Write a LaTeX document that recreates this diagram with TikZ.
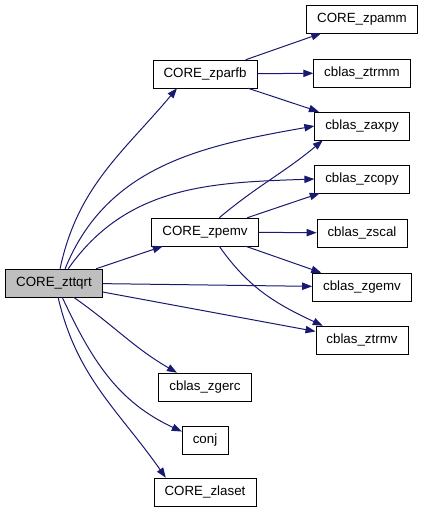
\documentclass[tikz,border=0pt]{standalone}
\usepackage{fontspec}
\setmainfont{Liberation Sans}
\usepackage{tikz}
\usetikzlibrary{arrows.meta}
\definecolor{CallBlue}{HTML}{191970}
\definecolor{RootGray}{HTML}{BFBFBF}

\begin{document}
\begin{tikzpicture}[x=0.75pt,y=-0.75pt,
  fn/.style={draw=black,fill=white,font=\fontsize{10}{12}\selectfont,minimum height=21pt,inner xsep=8pt,inner ysep=0pt},
  call/.style={CallBlue,line width=0.75pt,-{Triangle[length=7.5pt,width=5.5pt]}}]
\useasboundingbox (0,0) rectangle (424,513);
% functions
\node[fn,fill=RootGray] (zttqrt) at (54,283) {CORE\_zttqrt};
\node[fn] (zparfb) at (205,74) {CORE\_zparfb};
\node[fn] (zpemv) at (205,232) {CORE\_zpemv};
\node[fn] (zgerc) at (205,387) {cblas\_zgerc};
\node[fn] (conj) at (205,440) {conj};
\node[fn] (zlaset) at (205,492) {CORE\_zlaset};
\foreach \n/\y/\lab in {zpamm/19/CORE\_zpamm,ztrmm/73/cblas\_ztrmm,zaxpy/126/cblas\_zaxpy,zcopy/179/cblas\_zcopy,zscal/233/cblas\_zscal,zgemv/287/cblas\_zgemv,ztrmv/340/cblas\_ztrmv}
  {\node[fn] (\n) at (362,\y) {\lab};}
% calls
\foreach \t in {zpamm,ztrmm,zaxpy}{\draw[call] (zparfb)--(\t);}
\foreach \t in {zcopy,zscal,zgemv}{\draw[call] (zpemv)--(\t);}
\draw[call] (zpemv.45) to[out=40,in=220] (zaxpy.200);
\draw[call] (zpemv.-45) to[out=-55,in=155] (ztrmv.160);
\foreach \t in {zpemv,zgemv,ztrmv}{\draw[call] (zttqrt)--(\t);}
\draw[call] (zttqrt.67) to[out=78,in=230] (zparfb.207);
\draw[call] (zttqrt.52) to[out=68,in=190] (zaxpy.west);
\draw[call] (zttqrt.45) to[out=55,in=182] (zcopy.west);
\draw[call] (zttqrt.-36) to[out=-35,in=150] (zgerc.153);
\draw[call] (zttqrt.-60) to[out=-65,in=155] (conj.160);
\draw[call] (zttqrt.-74) to[out=-77,in=125] (zlaset.160);
\end{tikzpicture}
\end{document}
